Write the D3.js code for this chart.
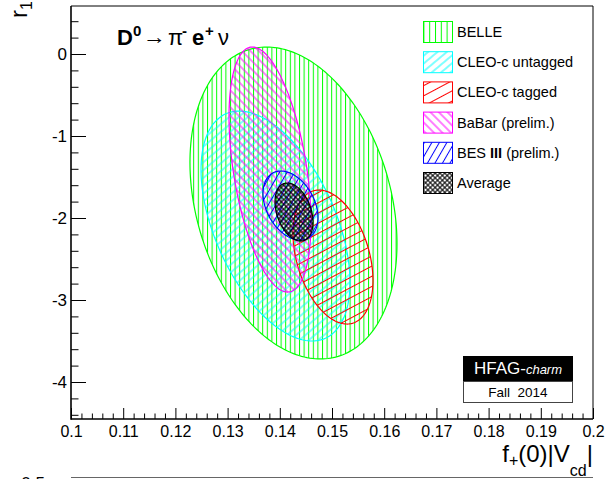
<!DOCTYPE html>
<html><head><meta charset="utf-8">
<script src="https://cdn.jsdelivr.net/npm/d3@7"></script>
<style>
body{margin:0;background:#fff;}
svg{display:block;font-family:"Liberation Sans",Arial,Helvetica,sans-serif;}
</style>
</head><body>
<svg id="c" width="615" height="479"></svg>
<script>
// ---- data ----
const experiments = ["BELLE", "CLEO-c untagged", "CLEO-c tagged", "BaBar (prelim.)", "BES III (prelim.)", "Average"];
const centerF  = [0.14262, 0.13918, 0.15019, 0.13812, 0.14205, 0.14272];
const centerR1 = [-1.817, -2.098, -2.476, -1.409, -1.848, -1.927];
const halfF    = [0.01983, 0.01427, 0.00766, 0.00785, 0.00527, 0.00364];
const halfR1   = [1.902, 1.402, 0.817, 1.494, 0.421, 0.354];
const corr     = [-0.26, -0.49, -0.35, -0.43, -0.35, -0.35];
const xTickLabels = ["0.1","0.11","0.12","0.13","0.14","0.15","0.16","0.17","0.18","0.19","0.2"];
const yTickLabels = ["0","-1","-2","-3","-4"];

// ---- styles ----
const colors = ["#00ff00", "#00ffff", "#ff0000", "#ff00ff", "#0000ff", "#000000"];
const hatch = [
  {type:"v", d:4.6, dLeg:5.8},
  {type:"a", angle:-40, d:6},
  {type:"a", angle:-28, d:9},
  {type:"a", angle:45, d:6},
  {type:"a", angle:-60, d:6.5},
  {type:"x", d:3.4}
];

const svg = d3.select("#c");
const L = 71, R = 593, T = 6, B = 419;
const x = d3.scaleLinear().domain([0.1, 0.2]).range([L, R]);
const y = d3.scaleLinear().domain([-4.4512, 0.5854]).range([B, T]);

const defs = svg.append("defs");
function makePattern(id, h, col, d) {
  if (h.type === "v") {
    const p = defs.append("pattern").attr("id", id).attr("patternUnits", "userSpaceOnUse")
      .attr("width", d).attr("height", 20);
    p.append("line").attr("x1", 0.5).attr("x2", 0.5).attr("y1", 0).attr("y2", 20)
      .attr("stroke", col).attr("stroke-width", 1);
  } else if (h.type === "a") {
    const p = defs.append("pattern").attr("id", id).attr("patternUnits", "userSpaceOnUse")
      .attr("width", 20).attr("height", d).attr("patternTransform", `rotate(${h.angle})`);
    p.append("line").attr("x1", 0).attr("x2", 20).attr("y1", d/2).attr("y2", d/2)
      .attr("stroke", col).attr("stroke-width", 1);
  } else {
    const p = defs.append("pattern").attr("id", id).attr("patternUnits", "userSpaceOnUse")
      .attr("width", d).attr("height", d).attr("patternTransform", "rotate(45)");
    p.append("line").attr("x1", 0).attr("x2", d).attr("y1", d/2).attr("y2", d/2)
      .attr("stroke", col).attr("stroke-width", 1.05);
    p.append("line").attr("y1", 0).attr("y2", d).attr("x1", d/2).attr("x2", d/2)
      .attr("stroke", col).attr("stroke-width", 1.05);
  }
}
experiments.forEach((e, i) => {
  makePattern("h" + i, hatch[i], colors[i], hatch[i].d);
  makePattern("hl" + i, hatch[i], colors[i], hatch[i].dLeg || hatch[i].d);
});

// ---- ellipses ----
const line = d3.line().x(p => x(p[0])).y(p => y(p[1])).curve(d3.curveLinearClosed);
const N = 240;
const gE = svg.append("g");
experiments.forEach((e, i) => {
  const pts = d3.range(N).map(k => {
    const t = 2 * Math.PI * k / N;
    const r = corr[i];
    return [centerF[i] + halfF[i] * Math.cos(t),
            centerR1[i] + halfR1[i] * (r * Math.cos(t) + Math.sqrt(1 - r * r) * Math.sin(t))];
  });
  gE.append("path").attr("d", line(pts))
    .attr("fill", `url(#h${i})`).attr("stroke", colors[i]).attr("stroke-width", 1.2);
});

// ---- axes ----
const xMajor = xTickLabels.map(Number);
const xMinor = d3.range(0, 51).map(k => 0.1 + k * 0.002).filter((v, k) => k % 5 !== 0);
const yMajor = yTickLabels.map(Number);
const yMinor = d3.range(-22, 3).map(k => k * 0.2).filter(v => Math.abs(v - Math.round(v)) > 1e-6);

const gx = svg.append("g").attr("transform", `translate(0,${B})`)
  .call(d3.axisBottom(x).tickValues(xMajor).tickFormat((d, i) => xTickLabels[i])
    .tickSizeInner(-11).tickSizeOuter(0).tickPadding(6.5));
svg.append("g").attr("transform", `translate(0,${B})`)
  .call(d3.axisBottom(x).tickValues(xMinor).tickFormat("").tickSizeInner(-5.5).tickSizeOuter(0));
const gy = svg.append("g").attr("transform", `translate(${L},0)`)
  .call(d3.axisLeft(y).tickValues(yMajor).tickFormat((d, i) => yTickLabels[i])
    .tickSizeInner(-15).tickSizeOuter(0).tickPadding(4));
svg.append("g").attr("transform", `translate(${L},0)`)
  .call(d3.axisLeft(y).tickValues(yMinor).tickFormat("").tickSizeInner(-7.5).tickSizeOuter(0));
svg.selectAll(".domain").remove();
svg.selectAll(".tick line").attr("stroke", "#000").attr("stroke-width", 1);
gx.selectAll("text").attr("font-size", 16).attr("fill", "#000")
  .attr("font-family", "Liberation Sans, Arial, sans-serif");
gy.selectAll("text").attr("font-size", 17).attr("fill", "#000")
  .attr("font-family", "Liberation Sans, Arial, sans-serif");

// frame
svg.append("line").attr("x1", L).attr("x2", R).attr("y1", T).attr("y2", T).attr("stroke", "#000").attr("stroke-width", 1);
svg.append("line").attr("x1", R).attr("x2", R).attr("y1", T).attr("y2", B).attr("stroke", "#000").attr("stroke-width", 1);
svg.append("line").attr("x1", L).attr("x2", L).attr("y1", T).attr("y2", B + 0.8).attr("stroke", "#000").attr("stroke-width", 1.6);
svg.append("line").attr("x1", L).attr("x2", R).attr("y1", B).attr("y2", B).attr("stroke", "#000").attr("stroke-width", 1.6);

// axis titles
const xt = svg.append("text").attr("x", R).attr("y", 462).attr("text-anchor", "end").attr("font-size", 24);
xt.append("tspan").text("f");
xt.append("tspan").attr("font-size", 16).attr("dy", 4).text("+");
xt.append("tspan").attr("dy", -4).text("(0)|V");
xt.append("tspan").attr("font-size", 16).attr("dy", 14).text("cd");
xt.append("tspan").attr("dy", -14).text("|");

const yt = svg.append("text").attr("transform", "translate(27,1) rotate(-90)").attr("text-anchor", "end").attr("font-size", 24);
yt.append("tspan").text("r");
yt.append("tspan").attr("font-size", 16).attr("dy", 5).text("1");

// plot title
const tt = svg.append("text").attr("y", 45).attr("font-size", 22).attr("font-weight", "bold");
tt.append("tspan").attr("x", 117).text("D");
tt.append("tspan").attr("x", 133).attr("dy", -9).attr("font-size", 15).text("0");
tt.append("tspan").attr("x", 168).attr("dy", 9).attr("font-weight", "normal").text("\u03c0");
tt.append("tspan").attr("x", 182).attr("dy", -9).attr("font-size", 15).text("-");
tt.append("tspan").attr("x", 192).attr("dy", 9).text("e");
tt.append("tspan").attr("x", 205).attr("dy", -9).attr("font-size", 15).text("+");
tt.append("tspan").attr("x", 218).attr("dy", 9).attr("font-weight", "normal").text("\u03bd");
svg.append("text").attr("x", 143).attr("y", 44).attr("font-size", 22)
  .attr("textLength", 23).attr("lengthAdjust", "spacingAndGlyphs").text("\u2192");

// legend
const gl = svg.append("g");
experiments.forEach((e, i) => {
  const top = 21 + 30.2 * i;
  gl.append("rect").attr("x", 423.5).attr("y", top + 0.5).attr("width", 29).attr("height", 21)
    .attr("fill", `url(#hl${i})`).attr("stroke", colors[i]).attr("stroke-width", 1);
  const t = gl.append("text").attr("x", 457).attr("y", top + 16).attr("font-size", 14.5).attr("fill", "#000");
  if (e.indexOf("III") >= 0) {
    const parts = e.split("III");
    t.append("tspan").text(parts[0]);
    t.append("tspan").attr("font-weight", "bold").text("III");
    t.append("tspan").text(parts[1]);
  } else {
    t.text(e);
  }
});

// HFAG stamp
svg.append("rect").attr("x", 463).attr("y", 356).attr("width", 110).attr("height", 25).attr("fill", "#000");
svg.append("rect").attr("x", 463.5).attr("y", 381.5).attr("width", 109).attr("height", 21)
  .attr("fill", "#fff").attr("stroke", "#444").attr("stroke-width", 1);
const hf = svg.append("text").attr("x", 518).attr("y", 373.5).attr("text-anchor", "middle").attr("fill", "#fff").attr("font-size", 17);
hf.append("tspan").text("HFAG-");
hf.append("tspan").attr("font-style", "italic").attr("font-size", 13).text("charm");
svg.append("text").attr("x", 518).attr("y", 396.5).attr("text-anchor", "middle").attr("font-size", 13.5)
  .attr("fill", "#000").attr("xml:space", "preserve").style("white-space", "pre").text("Fall  2014");

// next panel peeking in at the bottom
svg.append("line").attr("x1", L).attr("x2", R).attr("y1", 477.5).attr("y2", 477.5).attr("stroke", "#666").attr("stroke-width", 1);
svg.append("text").attr("x", 45).attr("y", 489).attr("text-anchor", "end").attr("font-size", 17).text("0.5");
</script>
</body></html>
